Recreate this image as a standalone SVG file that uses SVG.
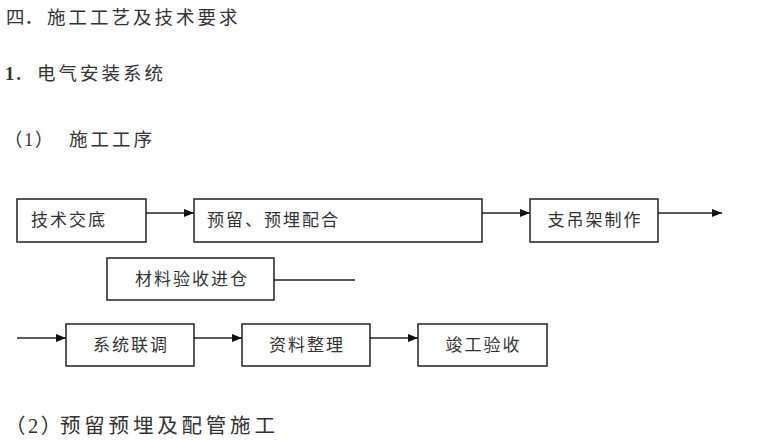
<svg xmlns="http://www.w3.org/2000/svg" width="760" height="440" viewBox="0 0 760 440">
<style>
text{font-family:"Liberation Serif","Noto Sans CJK SC",serif;fill:#333;}
.h{font-size:18.5px;letter-spacing:3px;dominant-baseline:central;}
.h2{font-size:20.5px;letter-spacing:3.8px;dominant-baseline:central;}
.lbl{font-size:17px;letter-spacing:2px;dominant-baseline:central;}
.c{text-anchor:middle;}
.ns{letter-spacing:0;}
.p1{letter-spacing:1.5px;}
.p2{letter-spacing:2.5px;}
rect{fill:#fff;stroke:#222;stroke-width:1.5;}
.ln{stroke:#222;stroke-width:1.6;fill:none;}
</style>
<defs>
<marker id="ah" markerWidth="10" markerHeight="8" refX="10" refY="4" orient="auto" markerUnits="userSpaceOnUse">
<path d="M0,0 L10,4 L0,8 Z" fill="#111"/>
</marker>
</defs>
<rect x="0" y="0" width="760" height="440" style="fill:#fff;stroke:none"/>
<g id="headings">
<text class="h" x="6" y="17.5"><tspan class="ns">四．</tspan><tspan x="47">施工工艺及技术要求</tspan></text>
<text class="h" x="5" y="73.5"><tspan class="ns" style="font-weight:bold">1</tspan><tspan class="ns">．</tspan><tspan x="37">电气安装系统</tspan></text>
<text class="h" x="4" y="139.5"><tspan class="p1">（1）</tspan><tspan x="69">施工工序</tspan></text>
<text class="h2" x="5" y="426"><tspan class="p2">（2）</tspan><tspan x="60">预留预埋及配管施工</tspan></text>
</g>
<g id="connectors">
<line class="ln" x1="146" y1="213" x2="194" y2="213" marker-end="url(#ah)"/>
<line class="ln" x1="482" y1="213" x2="530" y2="213" marker-end="url(#ah)"/>
<line class="ln" x1="658" y1="213" x2="722" y2="213" marker-end="url(#ah)"/>
<line class="ln" x1="274" y1="280" x2="355" y2="280"/>
<line class="ln" x1="17" y1="338" x2="66" y2="338" marker-end="url(#ah)"/>
<line class="ln" x1="194" y1="338" x2="242" y2="338" marker-end="url(#ah)"/>
<line class="ln" x1="370" y1="338" x2="418" y2="338" marker-end="url(#ah)"/>
</g>
<g id="n1"><rect x="17" y="199" width="129" height="43"/><text class="lbl" x="31" y="220">技术交底</text></g>
<g id="n2"><rect x="194" y="199" width="288" height="43"/><text class="lbl" x="207" y="220">预留、预埋配合</text></g>
<g id="n3"><rect x="530" y="199" width="128" height="43"/><text class="lbl c" x="595" y="220">支吊架制作</text></g>
<g id="n4"><rect x="107" y="258" width="167" height="42"/><text class="lbl c" x="192" y="279">材料验收进仓</text></g>
<g id="n5"><rect x="66" y="324" width="128" height="42"/><text class="lbl c" x="131" y="345">系统联调</text></g>
<g id="n6"><rect x="242" y="324" width="128" height="42"/><text class="lbl c" x="307" y="345">资料整理</text></g>
<g id="n7"><rect x="418" y="324" width="129" height="42"/><text class="lbl c" x="483.5" y="345">竣工验收</text></g>
</svg>
